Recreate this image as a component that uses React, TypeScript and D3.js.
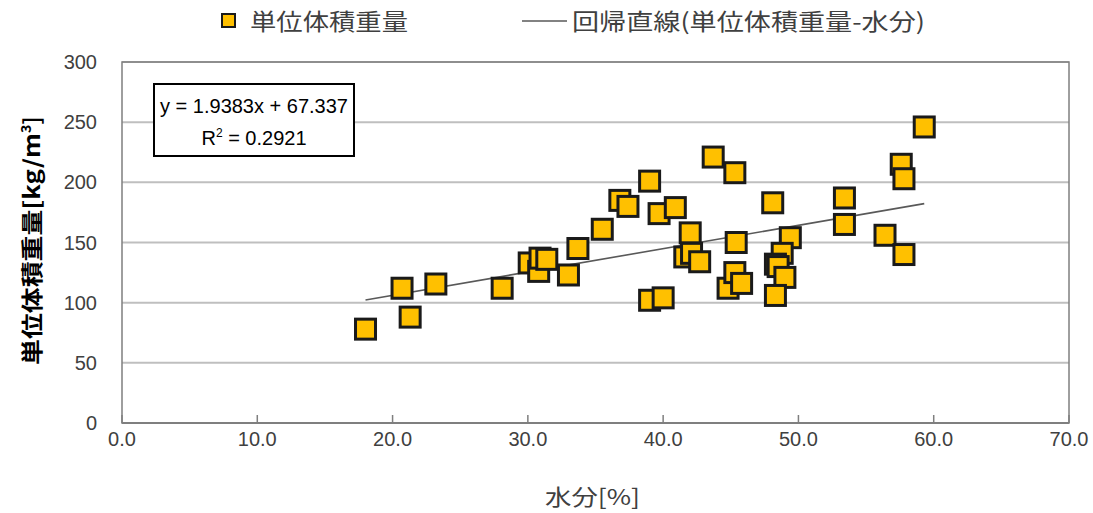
import React from "react";
import * as d3 from "d3";

const moisture = [18.0, 20.7, 21.3, 23.2, 28.1, 30.1, 30.8, 30.9, 31.4, 33.0, 33.7, 35.5, 36.8, 37.4, 39.0, 39.7, 40.9, 43.7, 45.3, 42.0, 41.6, 42.1, 42.7, 39.0, 40.0, 45.4, 44.8, 45.3, 45.8, 48.1, 49.4, 48.8, 48.3, 48.5, 49.0, 48.3, 53.4, 53.4, 59.3, 57.6, 57.8, 56.4, 57.8];
const density = [78, 112, 88, 115.5, 112, 133, 126, 137, 136, 123, 145, 161, 185, 180, 201, 174, 179, 221, 208, 158, 138, 141, 134, 102, 104, 150, 112, 125, 116, 183, 154, 141, 132, 130, 121, 106, 187, 165, 246, 215, 203, 156, 140];
const xTicks = [0, 10, 20, 30, 40, 50, 60, 70];
const yTicks = [0, 50, 100, 150, 200, 250, 300];
const slope = 1.9383;
const intercept = 67.337;
const seriesName = "単位体積重量";
const lineName = "回帰直線(単位体積重量-水分)";
const eqText = "y = 1.9383x + 67.337";
const r2Value = "0.2921";
const xTitle = "水分[%]";
const yTitle = "単位体積重量[kg/m";

export default function App() {
  const W = 1093, H = 513;
  const left = 122, right = 1069, top = 62, bottom = 423;
  const x = d3.scaleLinear().domain([0, 70]).range([left, right]);
  const y = d3.scaleLinear().domain([0, 300]).range([bottom, top]);
  const font = "'Liberation Sans', 'Noto Sans CJK JP', sans-serif";
  const jp = "'Noto Sans CJK JP', sans-serif";
  const xMin = d3.min(moisture)!;
  const xMax = d3.max(moisture)!;
  const lineGen = d3.line<number>().x((d) => x(d)).y((d) => y(slope * d + intercept));
  const sq = 20;
  return (
    <svg width={W} height={H} style={{ position: "absolute", left: 0, top: 0, background: "#fff" }}>
      {yTicks.filter((t) => t > 0).map((t) => (
        <line key={t} x1={left} x2={right} y1={y(t)} y2={y(t)} stroke="#bfbfbf" strokeWidth={2} />
      ))}
      <rect x={left} y={top} width={right - left} height={bottom - top} fill="none" stroke="#7f7f7f" strokeWidth={1.5} />
      <line x1={left} x2={right} y1={bottom} y2={bottom} stroke="#7f7f7f" strokeWidth={2} />
      {xTicks.map((t) => (
        <line key={t} x1={x(t)} x2={x(t)} y1={bottom} y2={bottom - 8} stroke="#7f7f7f" strokeWidth={1.5} />
      ))}
      {xTicks.map((t) => (
        <text key={t} x={x(t)} y={446} textAnchor="middle" fontFamily={font} fontSize={20} fill="#404040">
          {t.toFixed(1)}
        </text>
      ))}
      {yTicks.map((t) => (
        <text key={t} x={97} y={y(t) + 7} textAnchor="end" fontFamily={font} fontSize={20} fill="#404040">
          {t}
        </text>
      ))}
      <text x={545} y={505} fontFamily={jp} fontSize={22} fill="#404040" textLength={95} lengthAdjust="spacingAndGlyphs">{xTitle}</text>
      <text transform={`translate(40, 365) rotate(-90)`} fontFamily={jp} fontSize={22} fontWeight="bold" fill="#000">
        <tspan textLength={232} lengthAdjust="spacingAndGlyphs">{yTitle}</tspan><tspan dy={-9} fontSize={14}>3</tspan><tspan dy={9}>]</tspan>
      </text>
      <path d={lineGen([xMin, xMax]) || ""} fill="none" stroke="#595959" strokeWidth={1.6} />
      {moisture.map((m, i) => (
        <rect key={i} x={x(m) - sq / 2} y={y(density[i]) - sq / 2} width={sq} height={sq} fill="#FFC000" stroke="#1a1a1a" strokeWidth={3} />
      ))}
      <rect x={154} y={84} width={200} height={72} fill="#fff" stroke="#000" strokeWidth={2} />
      <text x={254} y={113} textAnchor="middle" fontFamily={font} fontSize={20} fill="#000">{eqText}</text>
      <text x={254} y={145} textAnchor="middle" fontFamily={font} fontSize={20} fill="#000">
        R<tspan dy={-8} fontSize={12}>2</tspan><tspan dy={8}>{" = " + r2Value}</tspan>
      </text>
      <rect x={222} y={14} width={13} height={13} fill="#FFC000" stroke="#1a1a1a" strokeWidth={2} />
      <text x={250} y={30} fontFamily={jp} fontSize={23} fill="#404040" textLength={158} lengthAdjust="spacingAndGlyphs">{seriesName}</text>
      <line x1={522} x2={567} y1={21} y2={21} stroke="#595959" strokeWidth={1.6} />
      <text x={572} y={30} fontFamily={jp} fontSize={23} fill="#404040" textLength={353} lengthAdjust="spacingAndGlyphs">{lineName}</text>
    </svg>
  );
}
